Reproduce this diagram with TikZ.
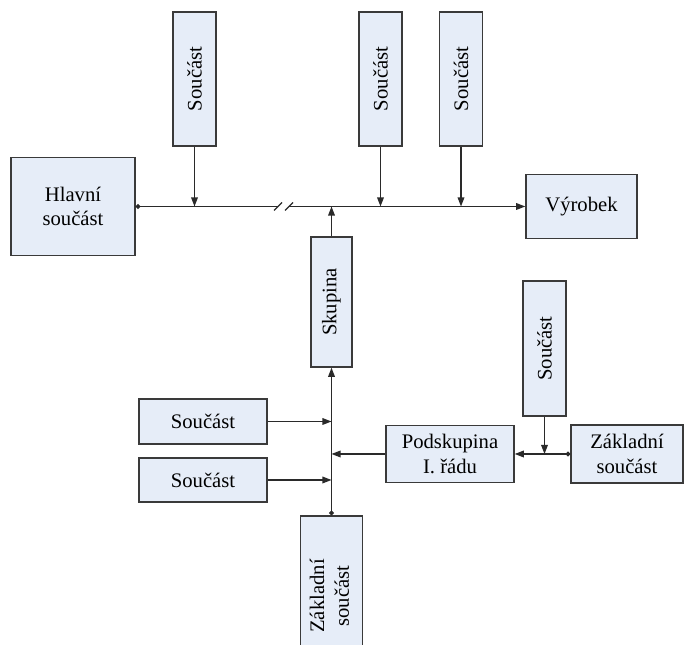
\documentclass[tikz,border=0pt]{standalone}
\usepackage{fontspec}
\setmainfont{Liberation Serif}
\usetikzlibrary{arrows.meta}

\definecolor{boxfill}{HTML}{E6EDF8}
\definecolor{boxline}{HTML}{3A3A3A}
\definecolor{wire}{HTML}{2A2A2A}

\newcommand{\vtext}[1]{\rotatebox{90}{#1}}

\begin{document}
\begin{tikzpicture}[x=0.75pt, y=0.75pt,
    box/.style={draw=boxline, line width=1.1pt, fill=boxfill, inner sep=0pt,
      font=\fontsize{15.5pt}{18.5pt}\selectfont, align=center},
    vbox/.style={box, minimum width=32.25pt, minimum height=100.5pt},
    arr/.style={-{Triangle[length=6.8pt, width=5pt]}, line width=0.9pt, draw=wire},
    dotarr/.style={{Circle[length=3.5pt]}-{Triangle[length=6.8pt, width=5pt]}, line width=0.9pt, draw=wire},
    dotline/.style={{Circle[length=3.5pt]}-, line width=0.9pt, draw=wire},
  ]
    \useasboundingbox (0,0) rectangle (689,645);

    % === Top row: main line to the product ===
    \node[box, minimum width=93pt, minimum height=73.5pt] (hlavni) at (73, 438.5) {Hlavní\\součást};
    \node[box, minimum width=83.25pt, minimum height=48pt] (vyrobek) at (581.5, 438.5) {Výrobek};

    \node[vbox] (sA) at (194.5, 566) {\vtext{Součást}};
    \node[vbox] (sB) at (380.5, 566) {\vtext{Součást}};
    \node[vbox] (sC) at (461, 566) {\vtext{Součást}};

    % break in the main line
    \coordinate (brkL) at (278, 438.5);
    \coordinate (brkR) at (289, 438.5);
    \draw[dotline] (hlavni.east) -- (brkL);
    \draw[arr] (brkR) -- (vyrobek.west);
    \draw[line width=0.9pt, wire] ([shift={(-4,-4)}]brkL) -- ([shift={(4,4)}]brkL);
    \draw[line width=0.9pt, wire] ([shift={(-4,-4)}]brkR) -- ([shift={(4,4)}]brkR);

    \foreach \s in {sA, sB, sC}
      \draw[arr] (\s.south) -- (\s.south |- hlavni.east);

    % === Group ===
    \node[box, minimum width=30.75pt, minimum height=97.5pt] (skupina) at (331.5, 343) {\vtext{Skupina}};
    \draw[arr] (skupina.north) -- (skupina.north |- hlavni.east);

    % === Lower assembly ===
    \node[box, minimum width=46.5pt, minimum height=120pt] (zakl) at (331.5, 49)
      {\vtext{\begin{tabular}{@{}c@{}}Základní\\součást\end{tabular}}};
    \draw[dotarr] (zakl.north) -- (skupina.south);

    \node[box, minimum width=96pt, minimum height=33.75pt] (slA) at (203, 223.5) {Součást};
    \node[box, minimum width=96pt, minimum height=33pt] (slB) at (203, 165) {Součást};
    \draw[arr] (slA.east) -- (slA.east -| zakl.north);
    \draw[arr] (slB.east) -- (slB.east -| zakl.north);

    % === Subgroup of the 1st order ===
    \node[box, minimum width=96pt, minimum height=42.75pt] (podsk) at (450, 191) {Podskupina\\I. řádu};
    \node[box, minimum width=84pt, minimum height=43.5pt] (zaklR) at (627, 191) {Základní\\součást};
    \node[vbox, minimum height=101.25pt] (sR) at (544.5, 296.5) {\vtext{Součást}};

    \draw[arr] (podsk.west) -- (podsk.west -| zakl.north);
    \draw[dotarr] (zaklR.west) -- (podsk.east);
    \draw[arr] (sR.south) -- (sR.south |- podsk.east);
  \end{tikzpicture}
\end{document}
